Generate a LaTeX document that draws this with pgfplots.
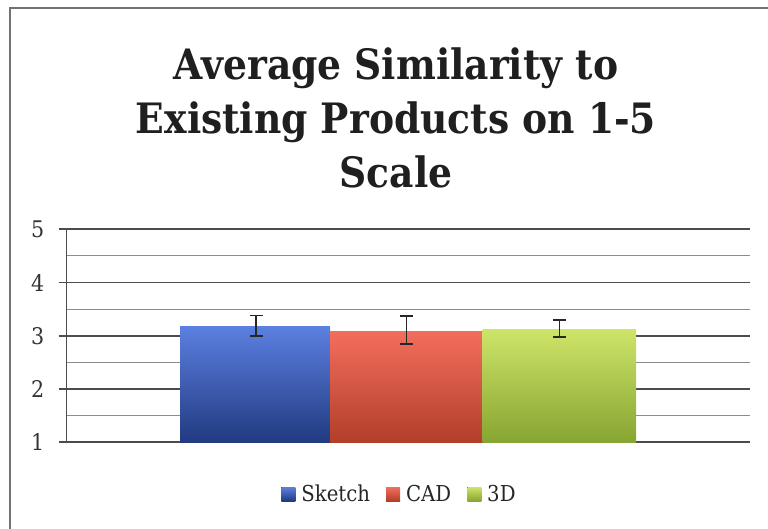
\documentclass[border=0pt]{standalone}
\usepackage{fontspec}
\setmainfont{DejaVu Serif Condensed}
\usepackage{pgfplots}
\pgfplotsset{compat=1.18}
\definecolor{bluetop}{RGB}{92,128,225}
\definecolor{bluebot}{RGB}{33,58,128}
\definecolor{redtop}{RGB}{243,110,92}
\definecolor{redbot}{RGB}{178,62,42}
\definecolor{greentop}{RGB}{205,228,104}
\definecolor{greenbot}{RGB}{135,165,50}
\begin{document}
\begin{tikzpicture}[x=1bp,y=1bp]
\path[use as bounding box] (0,0) rectangle (768,529);
\draw[black!55, line width=1.2bp] (10,-10) -- (10,521) -- (780,521);
\node[align=center, font=\bfseries\fontsize{42}{54}\selectfont, text=black!88] at (396,411) {Average Similarity to\\Existing Products on 1-5\\Scale};
\coordinate (AX) at (66.7,86.7);
\begin{axis}[
  at={(AX)}, anchor=south west,
  scale only axis, width=683.3bp, height=213bp,
  xmin=0, xmax=683.3, ymin=1, ymax=5,
  axis x line=none,
  axis y line=left, axis line style={-, black!70, line width=1.3bp},
  ytick={1,2,3,4,5}, minor ytick={1.5,2.5,3.5,4.5},
  xtick=\empty,
  ymajorgrids, yminorgrids,
  major grid style={black!70, line width=1.6bp},
  minor grid style={black!45, line width=0.9bp},
  tick align=outside, major tick length=8bp, minor tick length=0pt,
  ytick style={black!70, line width=1.6bp},
  /pgf/number format/assume math mode=true,
  yticklabel style={font=\fontsize{23}{26}\selectfont, text=black!80, xshift=-11bp},
  clip=false,
  legend style={at={(0.487,-0.243)}, anchor=center, draw=none, fill=none,
    font=\fontsize{22}{26}\selectfont, legend columns=3,
    /tikz/every odd column/.append style={column sep=4bp},
    /tikz/every even column/.append style={column sep=14bp},
    text=black!85},
  legend image code/.code={\fill[#1] (0bp,-7bp) rectangle (14bp,7bp);},
]
\addplot[draw=none, top color=bluetop, bottom color=bluebot] coordinates {(113.3,1) (113.3,3.18) (263.3,3.18) (263.3,1)} -- cycle;
\addlegendentry{Sketch}
\addplot[draw=none, top color=redtop, bottom color=redbot] coordinates {(263.3,1) (263.3,3.09) (416,3.09) (416,1)} -- cycle;
\addlegendentry{CAD}
\addplot[draw=none, top color=greentop, bottom color=greenbot] coordinates {(416,1) (416,3.11) (569.3,3.11) (569.3,1)} -- cycle;
\addlegendentry{3D}
\addplot[forget plot, draw=none, mark=none,
  error bars/.cd, y dir=both, y explicit,
  error bar style={black!85, line width=1.8bp},
  error mark options={black!85, rotate=90, mark size=6.5bp, line width=1.8bp}]
  coordinates {
  (189.3,3.18) += (0,0.20) -= (0,0.18)
  (339.7,3.09) += (0,0.28) -= (0,0.25)
  (492.7,3.11) += (0,0.19) -= (0,0.14)
  };
\end{axis}
\end{tikzpicture}
\end{document}
